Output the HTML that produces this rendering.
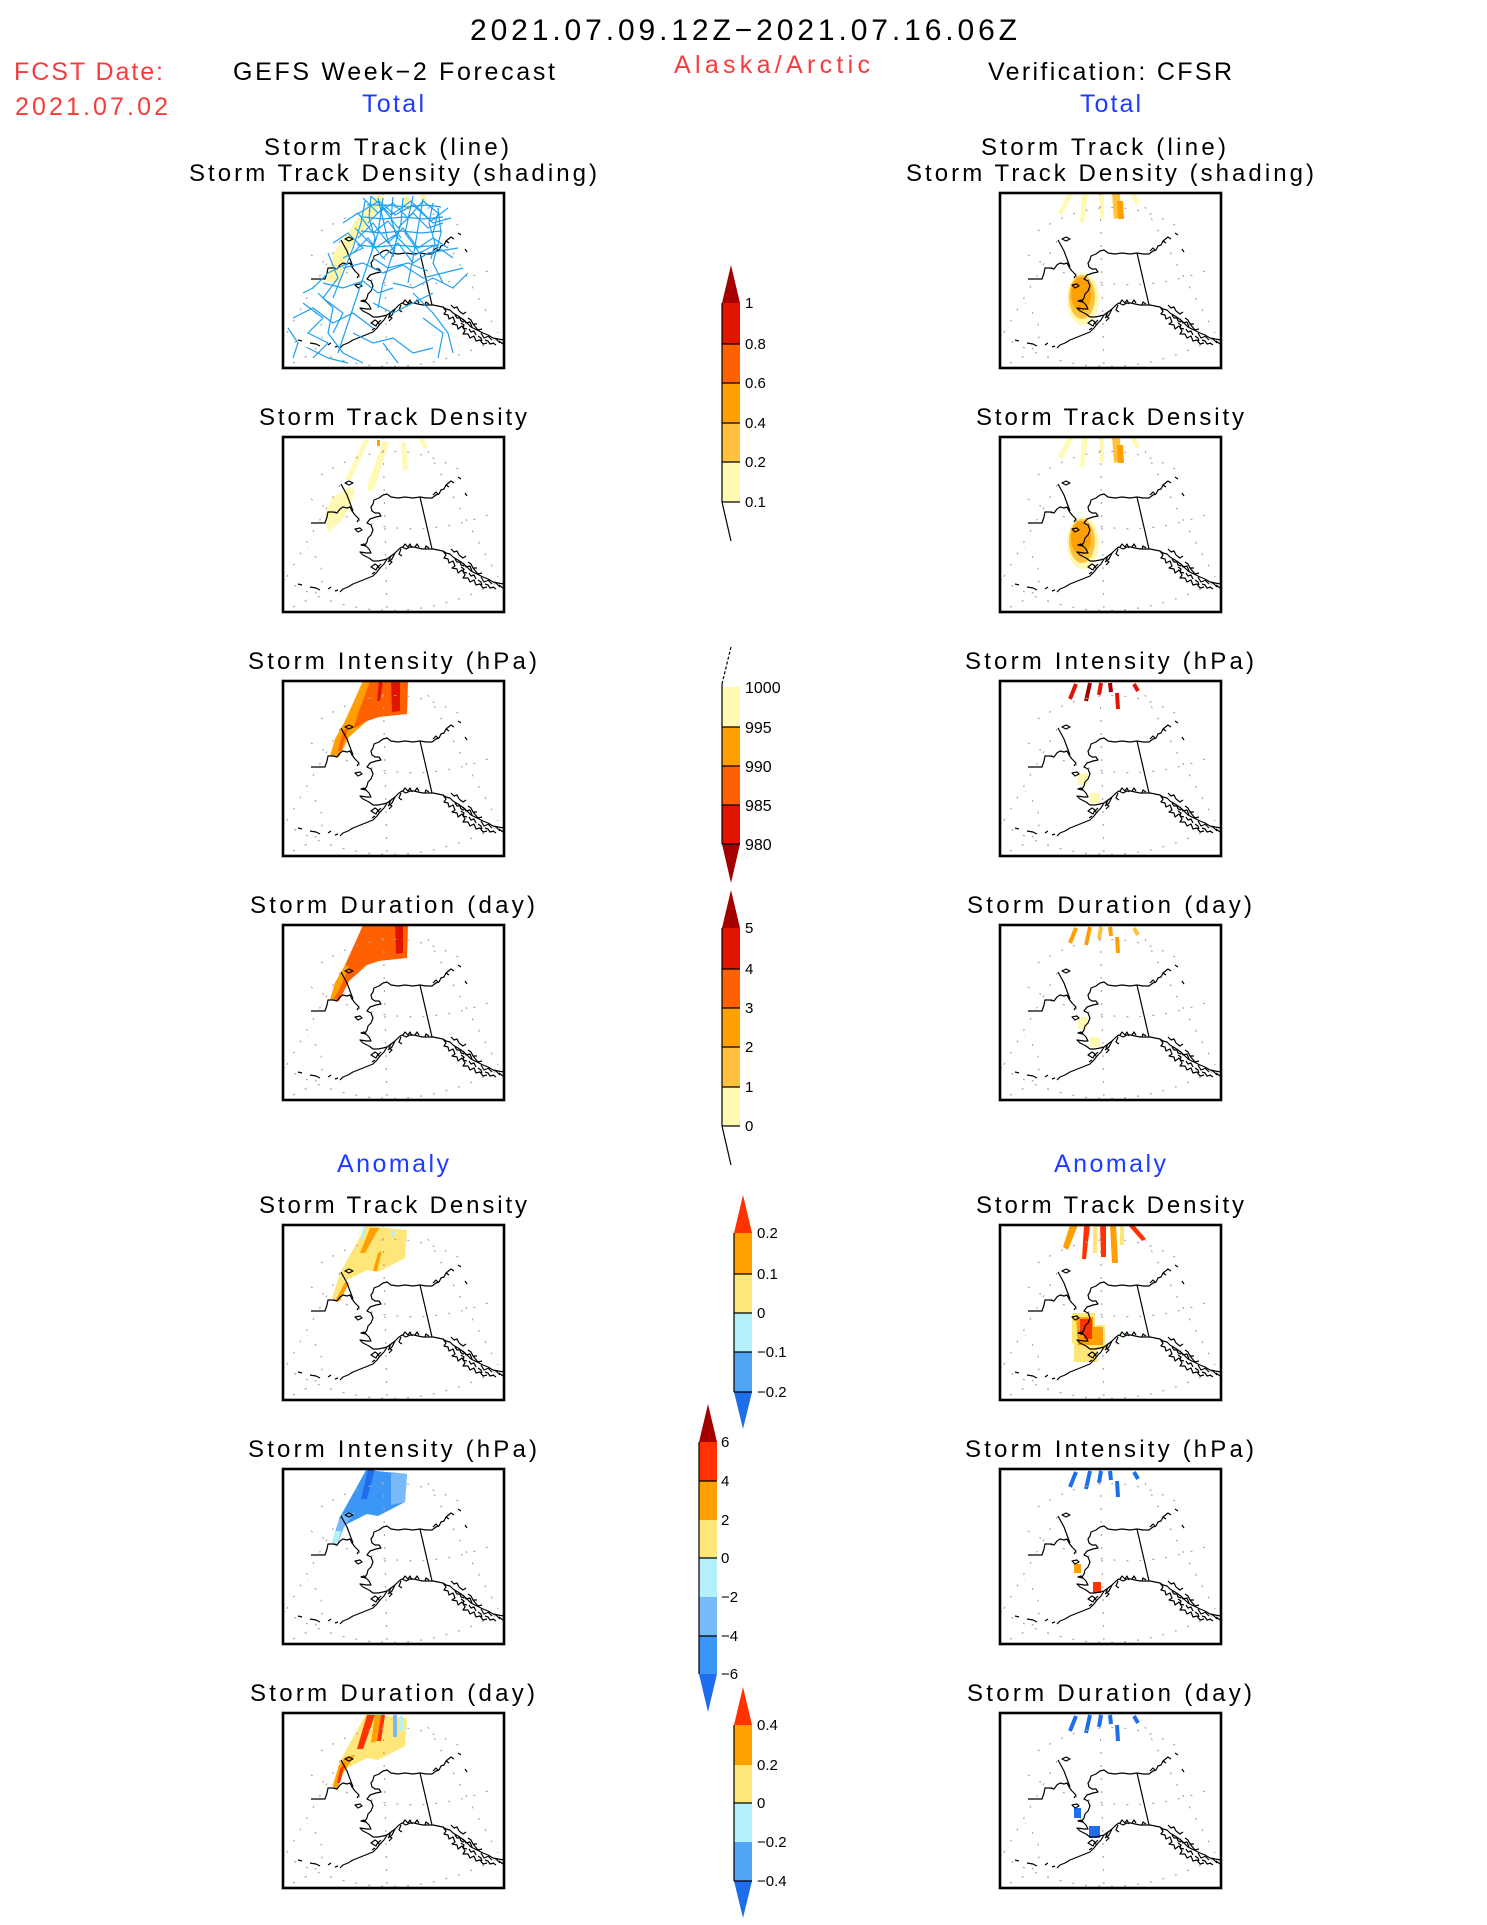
<!DOCTYPE html>
<html><head><meta charset="utf-8"><style>html,body{margin:0;padding:0;background:#fff}svg{display:block}</style></head>
<body>
<svg width="1487" height="1925" viewBox="0 0 1487 1925" xmlns="http://www.w3.org/2000/svg" font-family="'Liberation Sans', sans-serif">
<defs>
<clipPath id="pc"><rect x="0" y="0" width="221" height="175"/></clipPath>
<g id="grid" fill="none" stroke="#a8a8a8" stroke-width="1.2" stroke-dasharray="2 11">
<path d="M0,142 Q105,205 221,142"/>
<path d="M28,62 Q110,112 205,78"/>
<path d="M38,38 Q110,-8 182,36"/>
<path d="M57,48 L2,143"/>
<path d="M145,14 L215,140"/>
<path d="M100,0 L104,176"/>
<path d="M10,170 Q60,150 25,110"/>
</g>
<g id="coast" fill="none" stroke="#000" stroke-width="1.2" stroke-linejoin="round">
<path d="M100,58 L104,57 L108,60 L115,61 L122,60 L130,61 L137,60 L143,61 L149,61 L153,58 L156,57 L158,53 L161,52 L163,48 L166,50"/>
<path d="M100,58 L96,61 L91,63 L90,67 L88,70 L89,74 L92,76 L96,76 L98,79 L93,80 L87,82 L84,86 L88,88 L90,93 L88,98 L85,101 L84,105 L82,108 L86,112 L88,116 L84,116 L77,115 L80,118 L86,121 L90,124 L95,124 L100,123 L104,122"/>
<path d="M104,122 L101,127 L97,131 L94,135 L90,139 L85,141 L80,143 L75,145 L70,147 L65,150 L60,152 L57,155"/>
<path d="M104,122 L108,119 L112,116 L116,112 L119,110 L123,112 L127,110 L131,110 L135,111 L140,112 L146,112 L150,112 L155,113 L160,114 L163,116 L167,117 L170,120 L175,123 L178,125 L182,128 L185,131 L188,134 L192,136 L196,138 L200,140 L205,142 L210,145 L215,146 L221,147"/>
<path d="M137,60 L149,112"/>
<path d="M112,116 l-3,6 l-4,3 M118,112 l-2,5 l3,2 M88,130 l4,-3 l3,2 l-2,4 z"/>
<path d="M180,126 l3,4 l4,-1 l2,5 M190,131 l5,6 l4,-1 M198,140 l3,5 l5,-2 M205,143 l4,4 M212,145 l5,5 M176,118 l4,3 l3,-2 M185,125 l3,2 l2,4 l4,0"/>
<path d="M160,114 l3,4 l-2,3 l4,1 l1,4 l4,-2 l2,5 l-3,2 l5,1 l1,4 l4,-3 l3,5 l-2,3 l5,0 l2,4 l4,-2 l2,5 l4,-1 l3,4 l4,-1 M168,112 l3,3 l3,-1 l2,4 M172,122 l2,3 l3,0 l1,3 l3,1 M178,130 l3,2 l-1,3 l4,1 M186,136 l2,3 l3,-1 l2,4 M195,143 l3,2 l1,3 M202,147 l3,1 l2,3 l4,-1 M210,150 l3,2 M216,148 l4,3"/>
<path d="M120,110 l2,-3 l3,3 l2,-3 l2,4 M132,110 l2,-3 l2,3 M142,112 l1,-3 l3,2 M108,119 l-2,4 l3,2 l-3,3 M98,127 l-3,3 l2,2 M92,135 l-3,2"/>
<path d="M28,86 L36,86 L42,86 L44,80 L45,75 L50,75 L54,76 L57,72 L60,70 L64,71 L67,70 L69,74 L72,78 L76,82 L74,85"/>
<path d="M58,47 L64,58 L70,74"/>
<path d="M62,46 L66,44 L70,46 L66,48 Z M72,92 l5,-1 l2,2 l-4,2 z M78,108 l3,-1 l2,2 z"/>
<path d="M27,150 L33,151 L37,153 M15,147 L19,148 M45,152 L48,150 M52,154 l3,-1"/>
<path d="M163,48 L168,44 L171,46 M182,56 l2,3 M175,40 l3,2 M150,58 l3,-3 l2,2"/>
</g>
<g id="frame"><rect x="0" y="0" width="221" height="175" fill="none" stroke="#000" stroke-width="2.6"/></g>
</defs>

<rect width="1487" height="1925" fill="#fff"/>

<!-- Header -->
<text x="470" y="40" font-size="30" textLength="547" lengthAdjust="spacing" fill="#000">2021.07.09.12Z−2021.07.16.06Z</text>
<text x="14" y="80" font-size="25" textLength="149" lengthAdjust="spacing" fill="#f83c3c">FCST Date:</text>
<text x="15" y="115" font-size="25" textLength="153" lengthAdjust="spacing" fill="#f83c3c">2021.07.02</text>
<text x="233" y="80" font-size="25" textLength="322" lengthAdjust="spacing" fill="#000">GEFS Week−2 Forecast</text>
<text x="362" y="112" font-size="25" textLength="62" lengthAdjust="spacing" fill="#1e3cff">Total</text>
<text x="674" y="73" font-size="25" textLength="196" lengthAdjust="spacing" fill="#f83c3c">Alaska/Arctic</text>
<text x="988" y="80" font-size="25" textLength="244" lengthAdjust="spacing" fill="#000">Verification: CFSR</text>
<text x="1080" y="112" font-size="25" textLength="61" lengthAdjust="spacing" fill="#1e3cff">Total</text>

<!-- Panel titles -->
<g font-size="24" fill="#000">
<text x="264" y="155" textLength="245" lengthAdjust="spacing">Storm Track (line)</text>
<text x="189" y="181" textLength="408" lengthAdjust="spacing">Storm Track Density (shading)</text>
<text x="259" y="425" textLength="268" lengthAdjust="spacing">Storm Track Density</text>
<text x="248" y="669" textLength="289" lengthAdjust="spacing">Storm Intensity (hPa)</text>
<text x="250" y="913" textLength="285" lengthAdjust="spacing">Storm Duration (day)</text>
<text x="259" y="1213" textLength="268" lengthAdjust="spacing">Storm Track Density</text>
<text x="248" y="1457" textLength="289" lengthAdjust="spacing">Storm Intensity (hPa)</text>
<text x="250" y="1701" textLength="285" lengthAdjust="spacing">Storm Duration (day)</text>
<text x="981" y="155" textLength="245" lengthAdjust="spacing">Storm Track (line)</text>
<text x="906" y="181" textLength="408" lengthAdjust="spacing">Storm Track Density (shading)</text>
<text x="976" y="425" textLength="268" lengthAdjust="spacing">Storm Track Density</text>
<text x="965" y="669" textLength="289" lengthAdjust="spacing">Storm Intensity (hPa)</text>
<text x="967" y="913" textLength="285" lengthAdjust="spacing">Storm Duration (day)</text>
<text x="976" y="1213" textLength="268" lengthAdjust="spacing">Storm Track Density</text>
<text x="965" y="1457" textLength="289" lengthAdjust="spacing">Storm Intensity (hPa)</text>
<text x="967" y="1701" textLength="285" lengthAdjust="spacing">Storm Duration (day)</text>
</g>
<text x="337" y="1172" font-size="25" textLength="112" lengthAdjust="spacing" fill="#1e3cff">Anomaly</text>
<text x="1054" y="1172" font-size="25" textLength="112" lengthAdjust="spacing" fill="#1e3cff">Anomaly</text>

<!-- L1 -->
<g transform="translate(283,193)">
<g clip-path="url(#pc)">
<polygon points="95,2 102,4 88,28 68,54 55,90 43,88 51,60 78,20" fill="#fff6a8"/>
<polygon points="120,4 126,4 127,17 121,18" fill="#fff6a8"/>
<polygon points="137,2 143,2 144,9 139,10" fill="#fff6a8"/>
<use href="#grid"/>
<use href="#coast"/>
<g fill="none" stroke="#1ea0f0" stroke-width="1.2">
<polyline points="80,5 95,20 110,10 125,25 140,8 155,20 150,40"/>
<polyline points="85,30 100,15 115,35 130,20 145,35 160,30"/>
<polyline points="75,45 90,30 105,50 120,35 135,55 150,45 165,55"/>
<polyline points="70,60 85,45 100,65 115,50 130,70 145,60 175,55"/>
<polyline points="82,8 78,30 70,55 60,80 50,105"/>
<polyline points="100,5 95,40 85,70 75,100 65,130 55,160"/>
<polyline points="120,5 118,30 110,60 100,90 95,115"/>
<polyline points="140,6 135,35 130,65 125,90"/>
<polyline points="155,15 158,40 150,70 160,90"/>
<polyline points="60,75 80,70 100,80 120,72 140,85 160,80 180,75"/>
<polyline points="40,90 60,95 80,88 95,100 110,95"/>
<polyline points="20,110 40,125 25,140 45,150 30,165"/>
<polyline points="10,125 30,115 50,130 70,120 90,135"/>
<polyline points="35,100 50,115 45,140 60,160 80,170"/>
<polyline points="70,140 90,150 110,145 130,160 150,155"/>
<polyline points="100,150 115,170"/>
<polyline points="130,100 150,120 165,140 170,160"/>
<polyline points="140,125 160,140 155,165"/>
<polyline points="5,135 15,150 10,165"/>
<polyline points="90,110 110,120 130,110 150,100"/>
<polyline points="50,50 65,40 80,55 60,65"/>
<polyline points="60,30 75,20 90,40 105,28 118,45"/>
<polyline points="88,3 108,22 128,8 148,28 165,15"/>
<polyline points="76,20 96,8 112,22 130,12 150,30 168,25"/>
<polyline points="72,35 92,55 112,42 132,62 152,52 170,65"/>
<polyline points="95,5 105,48 112,60"/>
<polyline points="130,3 122,40 138,62"/>
<polyline points="65,70 45,80 30,95 20,100"/>
<polyline points="45,60 55,85 40,105 60,120 50,140"/>
<polyline points="110,90 130,95 150,85 170,95 185,80"/>
<polyline points="25,155 45,165 65,170"/>
<polyline points="84,12 104,12 124,14 144,12 158,14"/>
<polyline points="80,24 100,26 120,24 140,26 160,24"/>
<polyline points="78,38 98,40 118,38 138,40 158,38"/>
<polyline points="74,52 94,54 114,52 134,54 156,52"/>
<polyline points="88,3 86,25 92,45 88,62"/>
<polyline points="110,4 108,26 114,44 110,64"/>
<polyline points="150,10 146,30 152,50 148,66"/>
<polyline points="90,65 105,75 125,70 145,78"/>
</g>
</g>
<use href="#frame"/>
</g>

<!-- L2 -->
<g transform="translate(283,437)">
<g clip-path="url(#pc)">
<polygon points="81,3 86,3 68,43 62,43" fill="#fff9b4"/>
<polygon points="100,4 106,5 92,50 85,55 84,50" fill="#fff9b4"/>
<polygon points="118,5 123,5 125,33 120,35" fill="#fff9b4"/>
<polygon points="136,2 141,2 145,11 141,12" fill="#fff9b4"/>
<polygon points="45,96 42,76 50,60 67,50 72,53 67,70 59,83" fill="#fff9b4"/>
<rect x="94" y="3" width="3" height="6" fill="#ffa000"/>
<use href="#grid"/>
<use href="#coast"/>
</g>
<use href="#frame"/>
</g>

<!-- L3 -->
<g transform="translate(283,681)">
<g clip-path="url(#pc)">
<polygon points="80,0 125,0 124,33 96,36 84,40 70,48 62,40 72,18" fill="#ff6000"/>
<polygon points="108,0 117,0 117,30 109,31" fill="#e11400"/>
<polygon points="96,0 100,0 97,20 94,20" fill="#e11400"/>
<polygon points="72,18 80,0 87,0 76,30 70,48 62,40" fill="#ffa000"/>
<polygon points="62,40 70,48 84,40 66,56 56,76 47,75 52,58" fill="#ffa000"/>
<polygon points="60,50 66,46 58,70 55,70" fill="#ff6000"/>
<use href="#grid"/>
<use href="#coast"/>
</g>
<use href="#frame"/>
</g>

<!-- L4 -->
<g transform="translate(283,925)">
<g clip-path="url(#pc)">
<polygon points="80,0 125,0 124,33 96,36 84,40 70,48 62,40 72,18" fill="#ff6000"/>
<polygon points="112,0 120,0 120,28 113,29" fill="#e11400"/>
<polygon points="62,40 70,48 84,40 66,56 56,76 47,75 52,58" fill="#ff6000"/>
<polygon points="52,58 62,40 66,42 56,65 50,75 47,75" fill="#ffa000"/>
<use href="#grid"/>
<use href="#coast"/>
</g>
<use href="#frame"/>
</g>

<!-- L5 -->
<g transform="translate(283,1225)">
<g clip-path="url(#pc)">
<polygon points="83,1 124,5 122,33 95,47 84,45 62,56 57,68 54,78 49,73 57,48 77,12" fill="#ffe678"/>
<polygon points="87,3 96,3 82,28 77,28" fill="#ffa000"/>
<polygon points="95,28 99,26 94,46 90,46" fill="#ffa000"/>
<polygon points="52,76 57,76 66,58 62,57" fill="#ffa000"/>
<polygon points="80,2 83,2 80,15 78,15" fill="#b4f0fa"/>
<polygon points="109,6 112,6 111,12 108,12" fill="#b4f0fa"/>
<use href="#grid"/>
<use href="#coast"/>
</g>
<use href="#frame"/>
</g>

<!-- L6 -->
<g transform="translate(283,1469)">
<g clip-path="url(#pc)">
<polygon points="83,1 124,5 122,33 95,47 84,45 62,56 57,68 54,78 49,73 57,48 77,12" fill="#3c96f5"/>
<polygon points="108,3 124,5 122,33 108,36" fill="#78b9fa"/>
<polygon points="85,0 92,0 84,30 78,30" fill="#1e6eeb"/>
<polygon points="62,44 72,44 62,56 57,68 52,66 56,52" fill="#78b9fa"/>
<polygon points="49,73 52,62 58,62 54,78" fill="#b4f0fa"/>
<use href="#grid"/>
<use href="#coast"/>
</g>
<use href="#frame"/>
</g>

<!-- L7 -->
<g transform="translate(283,1713)">
<g clip-path="url(#pc)">
<polygon points="83,1 124,5 122,33 95,47 84,45 62,56 57,68 54,78 49,73 57,48 77,12" fill="#ffe678"/>
<polygon points="84,2 92,2 80,36 74,36" fill="#ff3200"/>
<polygon points="92,2 98,2 94,28 88,30" fill="#ffa000"/>
<polygon points="98,2 102,2 98,28 94,28" fill="#ff3200"/>
<polygon points="110,2 114,2 114,24 110,24" fill="#78b9fa"/>
<polygon points="117,3 120,3 120,18 117,18" fill="#b4f0fa"/>
<polygon points="62,44 72,42 60,60 54,76 50,73 56,52" fill="#ffa000"/>
<polygon points="57,56 62,50 57,70 54,70" fill="#ff3200"/>
<use href="#grid"/>
<use href="#coast"/>
</g>
<use href="#frame"/>
</g>

<!-- R1 -->
<g transform="translate(1000,193)">
<g clip-path="url(#pc)">
<polygon points="68,0 74,0 62,22 58,20" fill="#fff9b4"/>
<polygon points="82,0 88,0 84,30 80,30" fill="#fff9b4"/>
<polygon points="99,0 104,0 104,25 100,25" fill="#fff9b4"/>
<polygon points="112,0 120,0 121,24 114,26" fill="#ffc23c"/>
<polygon points="117,8 123,8 124,26 118,26" fill="#ffa000"/>
<polygon points="130,0 135,0 140,10 136,12" fill="#fff9b4"/>
<ellipse cx="83" cy="106" rx="16" ry="26" fill="#fff9b4"/>
<ellipse cx="82" cy="104" rx="13" ry="22" fill="#ffc23c"/>
<ellipse cx="81" cy="101" rx="10" ry="17" fill="#ffa000"/>
<use href="#grid"/>
<use href="#coast"/>
</g>
<use href="#frame"/>
</g>

<!-- R2 -->
<g transform="translate(1000,437)">
<g clip-path="url(#pc)">
<polygon points="68,0 74,0 62,22 58,20" fill="#fff9b4"/>
<polygon points="82,0 88,0 84,30 80,30" fill="#fff9b4"/>
<polygon points="99,0 104,0 104,25 100,25" fill="#fff9b4"/>
<polygon points="112,0 120,0 121,24 114,26" fill="#ffc23c"/>
<polygon points="117,8 123,8 124,26 118,26" fill="#ffa000"/>
<polygon points="130,0 135,0 140,10 136,12" fill="#fff9b4"/>
<ellipse cx="83" cy="106" rx="16" ry="26" fill="#fff9b4"/>
<ellipse cx="82" cy="104" rx="13" ry="22" fill="#ffc23c"/>
<ellipse cx="81" cy="101" rx="10" ry="17" fill="#ffa000"/>
<use href="#grid"/>
<use href="#coast"/>
</g>
<use href="#frame"/>
</g>

<!-- R3 -->
<g transform="translate(1000,681)">
<g clip-path="url(#pc)">
<g stroke-width="4">
<line x1="76" y1="3" x2="70" y2="18" stroke="#e11400"/>
<line x1="90" y1="2" x2="86" y2="20" stroke="#a50000"/>
<line x1="101" y1="2" x2="99" y2="14" stroke="#e11400"/>
<line x1="110" y1="2" x2="111" y2="11" stroke="#a50000"/>
<line x1="117" y1="12" x2="118" y2="28" stroke="#e11400"/>
<line x1="134" y1="3" x2="138" y2="10" stroke="#e11400"/>
</g>
<rect x="78" y="92" width="10" height="12" fill="#fff9b4"/>
<rect x="90" y="112" width="10" height="10" fill="#fff9b4"/>
<use href="#grid"/>
<use href="#coast"/>
</g>
<use href="#frame"/>
</g>

<!-- R4 -->
<g transform="translate(1000,925)">
<g clip-path="url(#pc)">
<g stroke-width="4">
<line x1="76" y1="3" x2="70" y2="18" stroke="#ffa000"/>
<line x1="90" y1="2" x2="86" y2="20" stroke="#ffa000"/>
<line x1="101" y1="2" x2="99" y2="14" stroke="#ffc23c"/>
<line x1="110" y1="2" x2="111" y2="11" stroke="#ffa000"/>
<line x1="117" y1="12" x2="118" y2="28" stroke="#ffa000"/>
<line x1="134" y1="3" x2="138" y2="10" stroke="#ffc23c"/>
</g>
<rect x="78" y="92" width="10" height="12" fill="#fff9b4"/>
<rect x="90" y="112" width="10" height="10" fill="#fff9b4"/>
<use href="#grid"/>
<use href="#coast"/>
</g>
<use href="#frame"/>
</g>

<!-- R5 -->
<g transform="translate(1000,1225)">
<g clip-path="url(#pc)">
<polygon points="70,0 78,0 68,25 63,22" fill="#ffa000"/>
<polygon points="84,0 90,0 86,34 82,34" fill="#ff3200"/>
<polygon points="93,0 98,0 97,28 93,28" fill="#ffe678"/>
<polygon points="100,0 106,0 106,32 101,32" fill="#ff3200"/>
<polygon points="110,0 116,0 118,38 112,38" fill="#ffa000"/>
<polygon points="120,0 124,0 124,20 120,20" fill="#ffe678"/>
<polygon points="128,0 134,0 146,14 142,16" fill="#ff3200"/>
<polygon points="72,88 95,88 95,100 105,100 105,125 98,125 98,137 74,137 74,118 72,118" fill="#ffe678"/>
<polygon points="76,92 93,92 93,102 103,102 103,120 78,120" fill="#ffa000"/>
<polygon points="80,94 92,94 92,114 84,114 84,110 80,110" fill="#ff3200"/>
<use href="#grid"/>
<use href="#coast"/>
</g>
<use href="#frame"/>
</g>

<!-- R6 -->
<g transform="translate(1000,1469)">
<g clip-path="url(#pc)">
<g stroke-width="4" stroke="#1e6eeb">
<line x1="76" y1="3" x2="70" y2="18"/>
<line x1="90" y1="2" x2="86" y2="20"/>
<line x1="101" y1="2" x2="99" y2="14"/>
<line x1="110" y1="2" x2="111" y2="11"/>
<line x1="117" y1="12" x2="118" y2="28"/>
<line x1="134" y1="3" x2="138" y2="10"/>
</g>
<rect x="74" y="95" width="7" height="9" fill="#ffa000"/>
<rect x="93" y="113" width="8" height="11" fill="#ff3200"/>
<use href="#grid"/>
<use href="#coast"/>
</g>
<use href="#frame"/>
</g>

<!-- R7 -->
<g transform="translate(1000,1713)">
<g clip-path="url(#pc)">
<g stroke-width="4" stroke="#1e6eeb">
<line x1="76" y1="3" x2="70" y2="18"/>
<line x1="90" y1="2" x2="86" y2="20"/>
<line x1="101" y1="2" x2="99" y2="14"/>
<line x1="110" y1="2" x2="111" y2="11"/>
<line x1="117" y1="12" x2="118" y2="28"/>
<line x1="134" y1="3" x2="138" y2="10"/>
</g>
<rect x="74" y="95" width="7" height="10" fill="#1e6eeb"/>
<rect x="89" y="113" width="11" height="12" fill="#1e6eeb"/>
<use href="#grid"/>
<use href="#coast"/>
</g>
<use href="#frame"/>
</g>

<!-- COLORBARS -->
<g font-size="15" fill="#000">
<polygon points="722,303 740,303 731,265" fill="#a50000"/>
<rect x="722" y="303" width="18" height="41" fill="#e11400"/>
<rect x="722" y="344" width="18" height="39" fill="#ff6000"/>
<rect x="722" y="383" width="18" height="40" fill="#ffa000"/>
<rect x="722" y="423" width="18" height="39" fill="#ffc23c"/>
<rect x="722" y="462" width="18" height="40" fill="#fff9b4"/>
<g stroke="#000" stroke-width="1.2">
<line x1="722" y1="303" x2="722" y2="502"/>
<line x1="722" y1="344" x2="740" y2="344"/><line x1="722" y1="383" x2="740" y2="383"/>
<line x1="722" y1="423" x2="740" y2="423"/><line x1="722" y1="462" x2="740" y2="462"/>
<line x1="722" y1="502" x2="740" y2="502"/>
<line x1="722" y1="502" x2="731" y2="541"/>
</g>
<text x="745" y="308">1</text><text x="745" y="349">0.8</text><text x="745" y="388">0.6</text>
<text x="745" y="428">0.4</text><text x="745" y="467">0.2</text><text x="745" y="507">0.1</text>

<rect x="722" y="687" width="18" height="40" fill="#fff9b4"/>
<rect x="722" y="727" width="18" height="39" fill="#ffa000"/>
<rect x="722" y="766" width="18" height="39" fill="#ff6000"/>
<rect x="722" y="805" width="18" height="39" fill="#e11400"/>
<polygon points="722,844 740,844 731,883" fill="#a50000"/>
<g stroke="#000" stroke-width="1.2">
<line x1="731" y1="647" x2="722" y2="684" stroke-dasharray="3 2"/>
<line x1="722" y1="684" x2="722" y2="844"/>
<line x1="722" y1="727" x2="740" y2="727"/><line x1="722" y1="766" x2="740" y2="766"/>
<line x1="722" y1="805" x2="740" y2="805"/><line x1="722" y1="844" x2="740" y2="844"/>
</g>
<g font-size="16">
<text x="745" y="693">1000</text><text x="745" y="733">995</text><text x="745" y="772">990</text>
<text x="745" y="811">985</text><text x="745" y="850">980</text>
</g>

<polygon points="722,928 740,928 731,890" fill="#a50000"/>
<rect x="722" y="928" width="18" height="41" fill="#e11400"/>
<rect x="722" y="969" width="18" height="39" fill="#ff6000"/>
<rect x="722" y="1008" width="18" height="39" fill="#ffa000"/>
<rect x="722" y="1047" width="18" height="40" fill="#ffc23c"/>
<rect x="722" y="1087" width="18" height="39" fill="#fff9b4"/>
<g stroke="#000" stroke-width="1.2">
<line x1="722" y1="928" x2="722" y2="1126"/>
<line x1="722" y1="969" x2="740" y2="969"/><line x1="722" y1="1008" x2="740" y2="1008"/>
<line x1="722" y1="1047" x2="740" y2="1047"/><line x1="722" y1="1087" x2="740" y2="1087"/>
<line x1="722" y1="1126" x2="740" y2="1126"/>
<line x1="722" y1="1126" x2="731" y2="1165"/>
</g>
<text x="745" y="933">5</text><text x="745" y="974">4</text><text x="745" y="1013">3</text>
<text x="745" y="1052">2</text><text x="745" y="1092">1</text><text x="745" y="1131">0</text>

<polygon points="734,1233 752,1233 743,1195" fill="#ff3200"/>
<rect x="734" y="1233" width="18" height="41" fill="#ffa000"/>
<rect x="734" y="1274" width="18" height="39" fill="#ffe678"/>
<rect x="734" y="1313" width="18" height="39" fill="#b4f0fa"/>
<rect x="734" y="1352" width="18" height="40" fill="#50a5f5"/>
<polygon points="734,1392 752,1392 743,1429" fill="#1e6eeb"/>
<g stroke="#000" stroke-width="1.2">
<line x1="734" y1="1233" x2="734" y2="1392"/>
<line x1="734" y1="1274" x2="752" y2="1274"/><line x1="734" y1="1313" x2="752" y2="1313"/>
<line x1="734" y1="1352" x2="752" y2="1352"/><line x1="734" y1="1392" x2="752" y2="1392"/>
</g>
<text x="757" y="1238">0.2</text><text x="757" y="1279">0.1</text><text x="757" y="1318">0</text>
<text x="757" y="1357">−0.1</text><text x="757" y="1397">−0.2</text>

<polygon points="699,1442 717,1442 708,1404" fill="#a50000"/>
<rect x="699" y="1442" width="18" height="39" fill="#ff3200"/>
<rect x="699" y="1481" width="18" height="39" fill="#ffa000"/>
<rect x="699" y="1520" width="18" height="38" fill="#ffe678"/>
<rect x="699" y="1558" width="18" height="39" fill="#b4f0fa"/>
<rect x="699" y="1597" width="18" height="39" fill="#78b9fa"/>
<rect x="699" y="1636" width="18" height="38" fill="#3c96f5"/>
<polygon points="699,1674 717,1674 708,1712" fill="#1e6eeb"/>
<g stroke="#000" stroke-width="1.2">
<line x1="699" y1="1442" x2="699" y2="1674"/>
<line x1="699" y1="1481" x2="717" y2="1481"/><line x1="699" y1="1558" x2="717" y2="1558"/>
<line x1="699" y1="1636" x2="717" y2="1636"/>
</g>
<text x="721" y="1447">6</text><text x="721" y="1486">4</text><text x="721" y="1525">2</text>
<text x="721" y="1563">0</text><text x="721" y="1602">−2</text><text x="721" y="1641">−4</text><text x="721" y="1679">−6</text>

<polygon points="734,1725 752,1725 743,1687" fill="#ff3200"/>
<rect x="734" y="1725" width="18" height="40" fill="#ffa000"/>
<rect x="734" y="1765" width="18" height="38" fill="#ffe678"/>
<rect x="734" y="1803" width="18" height="39" fill="#b4f0fa"/>
<rect x="734" y="1842" width="18" height="39" fill="#50a5f5"/>
<polygon points="734,1881 752,1881 743,1918" fill="#1e6eeb"/>
<g stroke="#000" stroke-width="1.2">
<line x1="734" y1="1725" x2="734" y2="1881"/>
<line x1="734" y1="1803" x2="752" y2="1803"/><line x1="734" y1="1881" x2="752" y2="1881"/>
</g>
<text x="757" y="1730">0.4</text><text x="757" y="1770">0.2</text><text x="757" y="1808">0</text>
<text x="757" y="1847">−0.2</text><text x="757" y="1886">−0.4</text>
</g>
</svg>
</body></html>
